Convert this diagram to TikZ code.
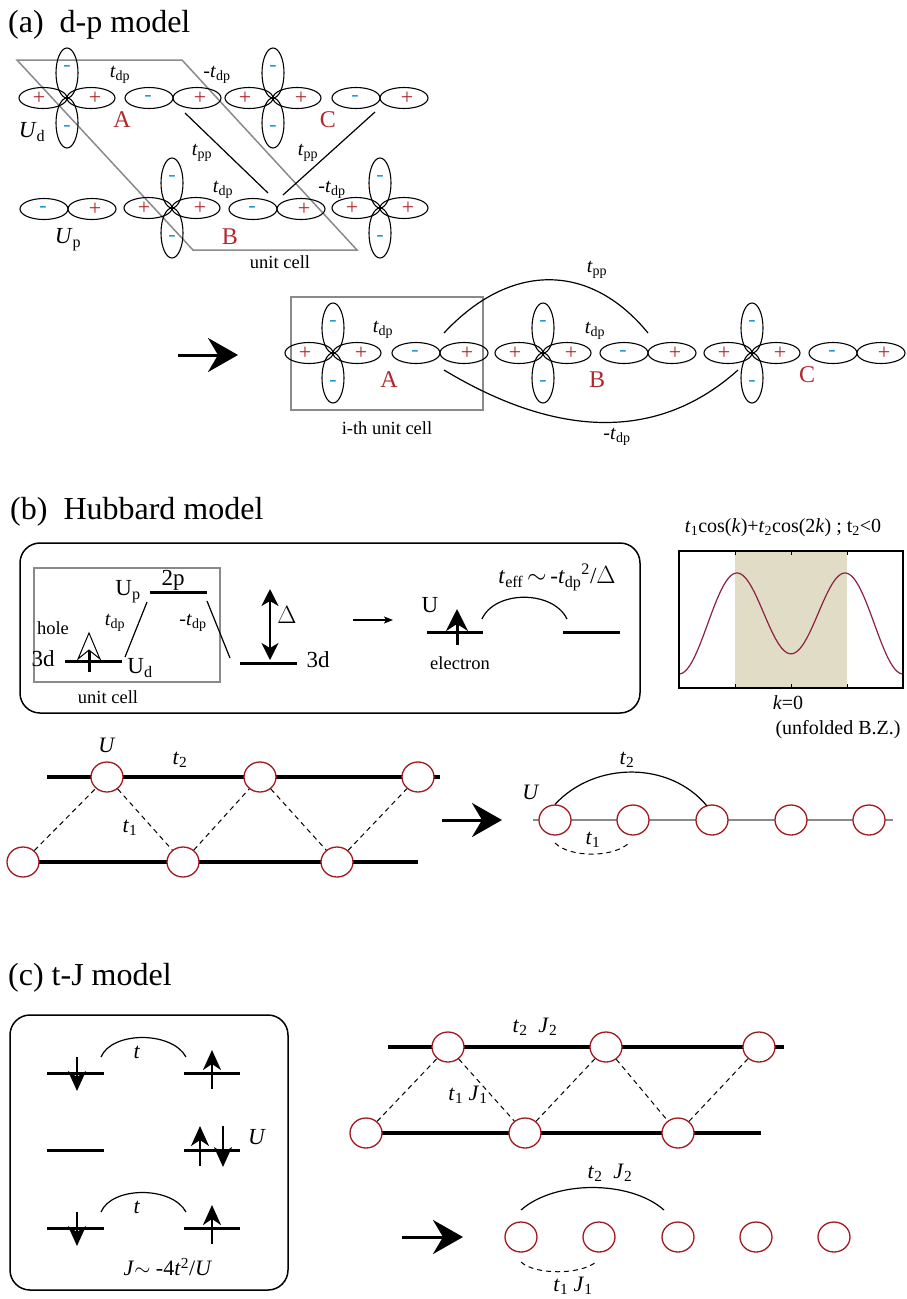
\documentclass[tikz,border=0pt]{standalone}
\usepackage{fontspec}
\setmainfont{Liberation Serif}
\usetikzlibrary{arrows.meta,shapes.geometric}

\definecolor{orbred}{HTML}{B0282C}
\definecolor{orbblue}{HTML}{1E9AD6}
\definecolor{sitered}{HTML}{A3191F}
\definecolor{bandcol}{HTML}{8E1F45}
\definecolor{bzshade}{HTML}{E0DCC5}
\definecolor{cellgray}{HTML}{8A8A8A}

\tikzset{
  orb/.style={line width=1.1pt},
  plussign/.style={text=orbred, inner sep=0pt, font=\fontsize{22}{22}\selectfont},
  minussign/.style={text=orbblue, inner sep=0pt, font=\fontsize{22}{22}\selectfont},
  sitelabel/.style={text=orbred, inner sep=0pt, font=\fontsize{24}{24}\selectfont},
  lbl/.style={inner sep=0pt, font=\fontsize{20}{20}\selectfont},
  tjlbl/.style={inner sep=0pt, font=\fontsize{22}{22}\selectfont},
  biglbl/.style={inner sep=0pt, font=\fontsize{23}{23}\selectfont},
  small/.style={inner sep=0pt, font=\fontsize{18.5}{20}\selectfont},
  title/.style={inner sep=0pt, anchor=west, font=\fontsize{32}{34}\selectfont},
  cell/.style={draw=cellgray, line width=1.5pt},
  level/.style={line width=3pt},
  site/.style={ellipse, draw=sitered, fill=white, line width=1.3pt,
               minimum width=32pt, minimum height=30pt, inner sep=0pt},
  rail/.style={line width=3.2pt},
  bond/.style={line width=1pt, dash pattern=on 5pt off 4pt},
  hop/.style={line width=1.2pt},
  bigarrow/.style={line width=3pt, -{Stealth[length=30pt,width=34pt,inset=10pt]}},
  spin/.style={line width=2.5pt, -{Stealth[length=20pt,width=18pt,inset=6pt]}},
  framebox/.style={draw, line width=1.5pt, rounded corners=20pt},
}

% d orbital: four lobes around a centre, #1 = name, #2 = position
\newcommand\dorbital[2]{%
  \begin{scope}[shift={(#2)}]
    \coordinate (#1) at (0,0);
    \draw[orb] (-24,0) ellipse [x radius=24pt, y radius=10.5pt];
    \draw[orb] (24,0) ellipse [x radius=24pt, y radius=10.5pt];
    \draw[orb] (0,-25) ellipse [x radius=11pt, y radius=25pt];
    \draw[orb] (0,25) ellipse [x radius=11pt, y radius=25pt];
    \node[plussign] at (-28,0) {+};
    \node[plussign] at (28,0) {+};
    \node[minussign] at (0,-30) {-};
    \node[minussign] at (0,30) {-};
  \end{scope}}

% p orbital: two lobes, #1 = name, #2 = position
\newcommand\porbital[2]{%
  \begin{scope}[shift={(#2)}]
    \coordinate (#1) at (0,0);
    \draw[orb] (-24,0) ellipse [x radius=24pt, y radius=10.5pt];
    \draw[orb] (24,0) ellipse [x radius=24pt, y radius=10.5pt];
    \node[minussign] at (-25,0) {-};
    \node[plussign] at (27,0) {+};
  \end{scope}}

\newcommand\tdp{\textit{t}\textsubscript{dp}}
\newcommand\tpp{\textit{t}\textsubscript{pp}}

\begin{document}
\begin{tikzpicture}[x=1pt,y=-1pt]
\useasboundingbox (0,0) rectangle (907,1299);

%%%%%%%%%%%%%%%% (a) d-p model %%%%%%%%%%%%%%%%
\node[title] (ta) at (8,25) {(a)\ \ d-p model};

\draw[cell] (17,60) -- (182,60) -- (357,250) -- (193,250) -- cycle;

\dorbital{dA}{67,98}
\porbital{pA}{173,98}
\dorbital{dC}{273,98}
\porbital{pC}{380,98}
\porbital{pL}{68,209}
\dorbital{dB}{172,208}
\porbital{pB}{277,209}
\dorbital{dR}{380,208}

\node[lbl] (a1) at (120,75) {\tdp};
\node[lbl] (a2) at (217,75) {-\tdp};
\node[biglbl] (a3) at (32,132) {\textit{U}\textsubscript{d}};
\node[sitelabel] (a4) at (122,120) {A};
\node[sitelabel] (a5) at (328,120) {C};
\node[biglbl] (a6) at (68,240) {\textit{U}\textsubscript{p}};
\node[sitelabel] (a7) at (230,237) {B};
\node[lbl] (a8) at (223,190) {\tdp};
\node[lbl] (a9) at (332,190) {-\tdp};
\node[lbl] (a10) at (202,153) {\tpp};
\node[lbl] (a11) at (308,153) {\tpp};
\node[small] (a12) at (280,262) {unit cell};

\coordinate (ppa0) at (185,113);
\coordinate (ppa1) at (268,193);
\coordinate (ppb0) at (375,112);
\coordinate (ppb1) at (283,195);
\draw[hop] (ppa0) -- (ppa1);
\draw[hop] (ppb0) -- (ppb1);

% folded chain
\coordinate (arA0) at (178,355);
\coordinate (arA1) at (238,355);
\draw[bigarrow] (arA0) -- (arA1);

\draw[cell] (291,297) rectangle (483,410);
\dorbital{cA}{333,353}
\porbital{cpA}{440,353}
\dorbital{cB}{543,353}
\porbital{cpB}{648,353}
\dorbital{cC}{752,353}
\porbital{cpC}{857,353}

\coordinate (tpp0) at (444,333);
\coordinate (tpp1) at (648,333);
\draw[hop] (tpp0) .. controls (510,262) and (590,262) .. (tpp1);
\coordinate (tdm0) at (444,370);
\coordinate (tdm1) at (738,370);
\draw[hop] (tdm0) .. controls (560,440) and (660,440) .. (tdm1);

\node[lbl] (b1) at (383,330) {\tdp};
\node[lbl] (b2) at (595,331) {\tdp};
\node[lbl] (b3) at (597,270) {\tpp};
\node[lbl] (b4) at (617,437) {-\tdp};
\node[sitelabel] (b5) at (389,380) {A};
\node[sitelabel] (b6) at (597,380) {B};
\node[sitelabel] (b7) at (807,375) {C};
\node[small] (b8) at (387,428) {i-th unit cell};

%%%%%%%%%%%%%%%% (b) Hubbard model %%%%%%%%%%%%%%%%
\node[title] (tb) at (10,512) {(b)\ \ Hubbard model};
\draw[framebox] (20,543) rectangle (640,713);
\draw[cell] (34,568) rectangle (220,682);

\draw[level] (150,592) -- (207,592);
\draw[level] (65,661) -- (122,661);
\draw[level] (240,663) -- (297,663);
\draw[level] (427,632) -- (483,632);
\draw[level] (563,632) -- (620,632);

\coordinate (hl0) at (147,602);
\coordinate (hl1) at (125,657);
\coordinate (hr0) at (207,601);
\coordinate (hr1) at (230,658);
\draw[hop] (hl0) -- (hl1);
\draw[hop] (hr0) -- (hr1);

% hole: open arrow head on the 3d level
\draw[line width=3pt] (89,649) -- (89,672);
\draw[line width=1pt, fill=white, line join=miter]
  (89,633) -- (100,659) -- (89,650) -- (78,659) -- cycle;

% charge-transfer gap
\coordinate (gp0) at (270,589);
\coordinate (gp1) at (270,660);
\draw[line width=2pt, {Stealth[length=17pt,width=17pt,inset=5pt]}-{Stealth[length=17pt,width=17pt,inset=5pt]}] (gp0) -- (gp1);

\coordinate (sa0) at (353,620);
\coordinate (sa1) at (393,620);
\draw[line width=1.2pt, -{Stealth[length=9pt,width=7pt,inset=2pt]}] (sa0) -- (sa1);

% electron on the effective site
\coordinate (el0) at (457,645);
\coordinate (el1) at (457,609);
\draw[line width=3pt, -{Stealth[length=22pt,width=22pt,inset=7pt]}] (el0) -- (el1);
\coordinate (ef0) at (482,619);
\coordinate (ef1) at (567,619);
\draw[hop] (ef0) .. controls (495,590) and (553,590) .. (ef1);

\node[biglbl] (h1) at (128,592) {U\textsubscript{p}};
\node[biglbl] (h2) at (173,580) {2p};
\node[small] (h3) at (53,628) {hole};
\node[lbl] (h4) at (115,623) {\tdp};
\node[lbl] (h5) at (193,623) {-\tdp};
\node[biglbl] (h6) at (43,659) {3d};
\node[biglbl] (h7) at (140,668) {U\textsubscript{d}};
\node[small] (h8) at (108,697) {unit cell};
\node[biglbl] (h9) at (287,615) {$\Delta$};
\node[biglbl] (h10) at (318,660) {3d};
\node[biglbl] (h11) at (430,605) {U};
\node[small] (h12) at (460,663) {electron};
\node[biglbl] (h13) at (557,577) {\textit{t}\textsubscript{eff}\,$\sim$\,-\textit{t}\textsubscript{dp}\textsuperscript{2}/$\Delta$};

% dispersion of the effective chain
\fill[bzshade] (735,551) rectangle (847,688);
\draw[bandcol, line width=1.2pt] plot[domain=-180:180, samples=121, smooth]
  ({791+0.62222*\x}, {573+45.3*(1.006-0.2223*cos(\x)+cos(2*\x))});
\draw[line width=1.5pt] (679,551) rectangle (903,688);
\foreach \tx in {735,791,847} {
  \draw[line width=1pt] (\tx,551) -- (\tx,555);
  \draw[line width=1pt] (\tx,688) -- (\tx,684);
}
\node[lbl] (p1) at (783,528) {\textit{t}\textsubscript{1}cos(\textit{k})+\textit{t}\textsubscript{2}cos(2\textit{k}) ; t\textsubscript{2}<0};
\node[lbl] (p2) at (788,703) {\textit{k}=0};
\node[lbl] (p3) at (838,730) {(unfolded B.Z.)};

% zigzag ladder
\draw[rail] (47,777) -- (440,777);
\draw[rail] (38,862) -- (418,862);
\node[site] (u1) at (107,777) {};
\node[site] (u2) at (260,777) {};
\node[site] (u3) at (418,777) {};
\node[site] (l1) at (23,862) {};
\node[site] (l2) at (183,862) {};
\node[site] (l3) at (337,862) {};
\draw[bond] (l1) -- (u1);
\draw[bond] (u1) -- (l2);
\draw[bond] (l2) -- (u2);
\draw[bond] (u2) -- (l3);
\draw[bond] (l3) -- (u3);
\node[tjlbl] (z1) at (107,745) {\textit{U}};
\node[tjlbl] (z2) at (180,760) {\textit{t}\textsubscript{2}};
\node[tjlbl] (z3) at (130,828) {\textit{t}\textsubscript{1}};

% unfolded chain
\coordinate (arB0) at (442,820);
\coordinate (arB1) at (502,820);
\draw[bigarrow] (arB0) -- (arB1);
\coordinate (ch0) at (533,820);
\coordinate (ch1) at (893,820);
\draw[cellgray, line width=1.3pt] (ch0) -- (ch1);
\node[site] (c1) at (555,820) {};
\node[site] (c2) at (633,820) {};
\node[site] (c3) at (712,820) {};
\node[site] (c4) at (791,820) {};
\node[site] (c5) at (869,820) {};
\coordinate (t2e) at (707,806);
\draw[hop] (c1.north) .. controls (595,761) and (670,761) .. (t2e);
\coordinate (t1s) at (555,843);
\coordinate (t1e) at (630,842);
\draw[bond] (t1s) .. controls (570,858) and (615,858) .. (t1e);
\node[tjlbl] (y1) at (531,792) {\textit{U}};
\node[tjlbl] (y2) at (627,760) {\textit{t}\textsubscript{2}};
\node[tjlbl] (y3) at (593,840) {\textit{t}\textsubscript{1}};

%%%%%%%%%%%%%%%% (c) t-J model %%%%%%%%%%%%%%%%
\node[title] (tc) at (8,978) {(c) t-J model};
\draw[framebox] (10,1015) rectangle (288,1290);

% hopping of a down spin onto an up spin
\draw[level] (47,1073) -- (104,1073);
\draw[level] (184,1073) -- (240,1073);
\coordinate (s1a) at (77,1057); \coordinate (s1b) at (77,1091);
\draw[spin] (s1a) -- (s1b);
\coordinate (s2a) at (212,1089); \coordinate (s2b) at (212,1050);
\draw[spin] (s2a) -- (s2b);
\coordinate (k1a) at (101,1057); \coordinate (k1b) at (186,1057);
\draw[hop] (k1a) .. controls (112,1031) and (172,1031) .. (k1b);
\node[tjlbl] (q1) at (137,1052) {\textit{t}};

% doubly occupied site
\draw[level] (47,1150) -- (104,1150);
\draw[level] (184,1150) -- (240,1150);
\coordinate (s3a) at (200,1166); \coordinate (s3b) at (200,1126);
\draw[spin] (s3a) -- (s3b);
\coordinate (s4a) at (223,1126); \coordinate (s4b) at (223,1167);
\draw[spin] (s4a) -- (s4b);
\node[biglbl] (q2) at (257,1137) {\textit{U}};

% hopping back
\draw[level] (47,1228) -- (104,1228);
\draw[level] (184,1228) -- (240,1228);
\coordinate (s5a) at (77,1212); \coordinate (s5b) at (77,1246);
\draw[spin] (s5a) -- (s5b);
\coordinate (s6a) at (212,1244); \coordinate (s6b) at (212,1205);
\draw[spin] (s6a) -- (s6b);
\coordinate (k2a) at (101,1212); \coordinate (k2b) at (186,1212);
\draw[hop] (k2a) .. controls (112,1186) and (172,1186) .. (k2b);
\node[tjlbl] (q3) at (137,1207) {\textit{t}};
\node[tjlbl] (q4) at (168,1267) {\textit{J}$\sim$ -4\textit{t}\textsuperscript{2}/\textit{U}};

% t-J zigzag ladder
\draw[rail] (388,1047) -- (784,1047);
\draw[rail] (379,1133) -- (761,1133);
\node[site] (v1) at (448,1047) {};
\node[site] (v2) at (606,1047) {};
\node[site] (v3) at (759,1047) {};
\node[site] (w1) at (366,1133) {};
\node[site] (w2) at (525,1133) {};
\node[site] (w3) at (678,1133) {};
\draw[bond] (w1) -- (v1);
\draw[bond] (v1) -- (w2);
\draw[bond] (w2) -- (v2);
\draw[bond] (v2) -- (w3);
\draw[bond] (w3) -- (v3);
\node[tjlbl] (r1) at (535,1027) {\textit{t}\textsubscript{2}\ \ \textit{J}\textsubscript{2}};
\node[tjlbl] (r2) at (468,1095) {\textit{t}\textsubscript{1} \textit{J}\textsubscript{1}};

% t-J unfolded chain
\coordinate (arC0) at (402,1237);
\coordinate (arC1) at (463,1237);
\draw[bigarrow] (arC0) -- (arC1);
\node[site] (e1) at (521,1237) {};
\node[site] (e2) at (599,1237) {};
\node[site] (e3) at (678,1237) {};
\node[site] (e4) at (756,1237) {};
\node[site] (e5) at (834,1237) {};
\coordinate (j2s) at (521,1210);
\coordinate (j2e) at (664,1210);
\draw[hop] (j2s) .. controls (555,1180) and (630,1180) .. (j2e);
\coordinate (j1s) at (521,1262);
\coordinate (j1e) at (596,1262);
\draw[bond] (j1s) .. controls (535,1275) and (580,1275) .. (j1e);
\node[tjlbl] (x1) at (610,1173) {\textit{t}\textsubscript{2}\ \ \textit{J}\textsubscript{2}};
\node[tjlbl] (x2) at (573,1286) {\textit{t}\textsubscript{1} \textit{J}\textsubscript{1}};

\end{tikzpicture}
\end{document}
